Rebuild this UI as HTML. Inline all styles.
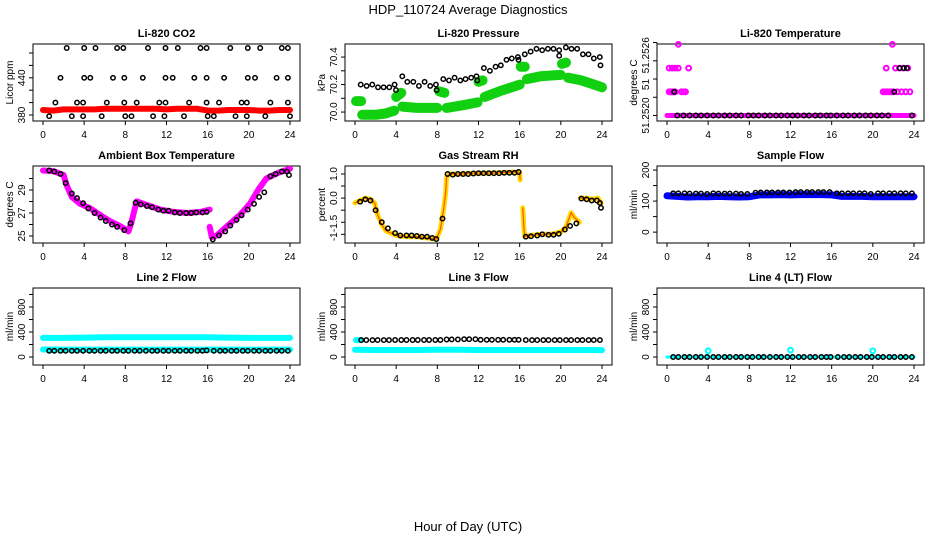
<!DOCTYPE html>
<html><head><meta charset="utf-8"><style>
html,body{margin:0;padding:0;background:#fff;}
svg{display:block;font-family:"Liberation Sans",Arial,sans-serif;}
</style></head><body>
<svg id="chart" width="936" height="540" viewBox="0 0 936 540">
<text x="468" y="14" text-anchor="middle" font-size="13">HDP_110724  Average Diagnostics</text>
<text x="468" y="531" text-anchor="middle" font-size="13">Hour of Day (UTC)</text>
</svg>
<script>
// ---------- data ----------
const xTicks=[0,4,8,12,16,20,24];
// CO2
const co2RedH=[0,1,2,3,4,5,6,7,8,9,10,11,12,13,14,15,16,17,18,19,20,21,22,23,24];
const co2RedV=[388,387,389,389,389,389,390,390,390,390,390,390,389,390,390,390,387,387,388,388,388,387,387,388,388];
const co2BlkH=[2.3,4.0,5.1,7.2,7.8,10.2,11.9,13.1,15.3,15.9,18.2,19.9,21.1,23.2,23.8, 1.7,4.0,4.6,6.8,7.9,9.7,11.9,12.6,14.7,15.9,17.6,19.9,20.6,22.7,23.8, 1.2,3.3,3.9,6.2,7.9,9.1,11.3,11.9,14.2,15.9,17.1,19.3,19.8,22.1,23.8, 0.6,2.8,3.9,5.7,8.0,8.6,10.7,11.8,13.7,16.0,16.6,18.7,19.8,21.6,24.0];
const co2BlkV=[488,488,488,488,488,488,488,488,488,488,488,488,488,488,488, 440,440,440,440,440,440,440,440,440,440,440,440,440,440,440, 400,400,400,400,400,400,400,400,400,400,400,400,400,400,400, 378,378,378,378,378,378,378,378,378,378,378,378,378,378,378];
// Pressure
const presBlkH=[0.55,1.13,1.68,2.23,2.78,3.33,3.85,3.98,4.6,5.08,5.66,6.21,6.76,7.31,7.86,7.93,8.58,9.13,9.68,10.23,10.74,11.29,11.81,11.88,12.52,13.11,13.66,14.17,14.72,15.24,15.83,15.89,16.5,17.06,17.64,18.19,18.74,19.29,19.84,19.84,20.49,21.04,21.59,22.14,22.69,23.2,23.79,23.85];
const presBlkV=[70.20,70.19,70.20,70.18,70.18,70.18,70.20,70.16,70.26,70.22,70.22,70.19,70.22,70.19,70.20,70.16,70.24,70.23,70.25,70.23,70.24,70.25,70.26,70.23,70.32,70.30,70.33,70.34,70.38,70.39,70.40,70.38,70.42,70.44,70.46,70.45,70.46,70.46,70.45,70.41,70.47,70.46,70.46,70.42,70.42,70.39,70.40,70.34];
const presGreenSegs=[
 [[0.1,70.08],[0.6,70.08]],
 [[0.7,69.98],[2.0,69.98],[3.0,69.99],[3.8,70.01]],
 [[4.0,70.11],[4.5,70.14]],
 [[4.6,70.04],[6.0,70.03],[8.0,70.03]],
 [[8.2,70.15],[8.7,70.14]],
 [[8.9,70.03],[10.5,70.05],[11.9,70.07]],
 [[12.0,70.22],[12.4,70.23]],
 [[12.6,70.11],[14.0,70.15],[16.0,70.20]],
 [[16.1,70.33],[16.5,70.33]],
 [[16.7,70.24],[18.0,70.26],[20.0,70.27]],
 [[20.1,70.35],[20.5,70.36]],
 [[20.7,70.25],[22.0,70.23],[24.0,70.18]]];
// Temperature (tick units)
const tempMagH=[0.2,0.3,0.4,0.5,0.6,0.7,0.8,1.4,1.6,1.8,21.0,21.2,21.4,21.6,21.8,22.0,22.4,22.8,23.2,23.6, 0.2,0.5,0.8,1.1,2.1,21.3,22.2,22.6,23.0,23.4, 1.1,21.9];
const tempMagV=[1.3,1.3,1.3,1.3,1.3,1.3,1.3,1.3,1.3,1.3,1.3,1.3,1.3,1.3,1.3,1.3,1.3,1.3,1.3,1.3, 2.6,2.6,2.6,2.6,2.6,2.6,2.6,2.6,2.6,2.6, 3.9,3.9];
const tempBlkH=[1.0,1.6,2.2,2.8,3.3,3.9,4.5,5.0,5.6,6.1,6.7,7.2,7.9,8.4,8.9,9.5,10.0,10.6,11.1,11.7,12.2,12.7,13.3,13.8,14.4,14.9,15.5,15.9,16.5,17.1,17.6,18.2,18.7,19.3,19.8,20.4,20.9,21.5,23.8,0.7,22.1,22.6,23.0,23.3];
const tempBlkV=[0,0,0,0,0,0,0,0,0,0,0,0,0,0,0,0,0,0,0,0,0,0,0,0,0,0,0,0,0,0,0,0,0,0,0,0,0,0,0,1.3,1.3,2.6,2.6,2.6];
// Ambient box temperature
const ambMagSegs=[
 [[0,30.7],[1.0,30.65],[2.0,30.3],[2.3,29.4],[2.8,28.4],[3.6,27.8],[4.6,27.4],[5.6,26.8],[6.5,26.3],[7.5,25.85],[8.3,25.4],[8.6,26.2],[8.95,27.5],[9.1,28.0]],
 [[9.1,28.0],[10.1,27.7],[11.4,27.3],[12.7,27.1],[14.0,27.0],[15.3,27.1],[16.2,27.3]],
 [[16.2,25.8],[16.4,24.9],[16.9,25.05],[18.2,26.1],[19.2,26.9],[20.1,27.8],[20.9,29.0],[21.7,30.0],[23.0,30.55],[24.0,30.85]]];
const ambBlkH=[0.6,1.1,1.7,2.2,2.8,3.3,3.9,4.4,5.0,5.6,6.1,6.7,7.2,7.9,8.5,9.0,9.5,10.1,10.6,11.2,11.7,12.2,12.8,13.3,13.9,14.4,14.9,15.5,15.9,16.5,17.1,17.7,18.2,18.8,19.3,19.9,20.5,21.0,21.5,22.1,22.6,23.2,23.7,23.9];
const ambBlkV=[30.7,30.6,30.4,29.6,28.7,28.3,27.85,27.4,27.0,26.6,26.3,26.0,25.8,25.5,26.1,27.9,27.75,27.6,27.5,27.3,27.2,27.2,27.05,27.0,27.0,27.0,27.05,27.05,27.1,24.7,25.05,25.4,25.9,26.4,26.8,27.3,27.8,28.4,28.8,30.2,30.4,30.6,30.6,30.3];
// Gas stream RH
const rhSegs=[
 [[0,-0.2],[0.5,-0.1],[1,0.0],[1.5,-0.05],[1.9,-0.2],[2.2,-0.7],[2.6,-1.1],[3,-1.35],[3.5,-1.45],[4,-1.55],[5,-1.6],[6,-1.6],[7,-1.65],[7.9,-1.7],[8.3,-1.3],[8.6,-0.5],[8.8,0.2],[8.9,0.9],[9.2,1.0],[10,1.0],[12,1.03],[14,1.05],[15.8,1.08],[16.0,1.05],[16.05,0.75]],
 [[16.3,-0.4],[16.4,-1.2],[16.5,-1.6],[17,-1.55],[18,-1.5],[19,-1.5],[20,-1.4],[20.5,-1.2],[21,-0.6],[21.3,-0.8],[21.8,-1.0]],
 [[21.9,0.0],[22.5,0.0],[23,-0.05],[23.6,0.0],[23.9,-0.2]]];
const rhBlkH=[0.5,1,1.5,2,2.6,3.2,3.9,4.4,5,5.5,6,6.5,7,7.5,7.9,8.5,9,9.5,10,10.5,11,11.5,12,12.5,13,13.5,14,14.5,15,15.5,15.9,16.6,17.1,17.7,18.2,18.8,19.3,19.8,20.4,20.9,21.5,22,22.5,23,23.5,23.8,23.9];
const rhBlkV=[-0.15,-0.05,-0.1,-0.5,-1.0,-1.25,-1.45,-1.55,-1.55,-1.55,-1.57,-1.6,-1.6,-1.65,-1.7,-0.85,1.0,0.97,1.0,1.0,1.0,1.02,1.03,1.03,1.03,1.03,1.03,1.05,1.05,1.05,1.08,-1.6,-1.58,-1.55,-1.5,-1.52,-1.52,-1.48,-1.3,-1.15,-1.05,-0.02,-0.05,-0.1,-0.1,-0.2,-0.4];
// Sample flow
const sfBlueH=[0,1,2,3,4,5,6,7,8,9,10,11,12,13,14,15,16,17,18,19,20,21,22,23,24];
const sfBlueV=[117,115,113,114,114,115,114,113,114,120,120,121,120,121,121,121,120,115,115,115,114,114,114,114,114];
const sfBlkH=[0.6,1.1,1.7,2.2,2.8,3.3,3.9,4.5,5.0,5.6,6.1,6.7,7.2,7.8,8.6,9.1,9.7,10.2,10.8,11.3,11.9,12.5,13.0,13.6,14.1,14.7,15.2,15.8,16.5,17.0,17.6,18.1,18.7,19.2,19.8,20.5,21.0,21.6,22.1,22.7,23.2,23.8];
const sfBlkV=[125,125,125,124,124,124,123,125,124,124,124,124,123,123,127,128,128,128,128,128,128,129,129,129,129,129,129,129,125,125,125,125,125,125,123,125,125,125,125,125,125,125];
// Line flows
const lineHours=[0,2,4,6,8,10,12,14,16,18,20,22,24];
const l2CyanHi=[305,305,310,315,315,315,315,315,315,310,305,305,305];
const l2CyanLo=[120,118,118,118,118,118,118,118,118,118,118,118,118];
const l3CyanLo=[115,112,112,112,115,115,112,112,112,112,112,112,110];
const l4Cyan=[0,0,0,0,0,0,0,0,0,0,0,0,0];
const blkH=[0.6,1.1,1.7,2.2,2.8,3.3,3.9,4.5,5.0,5.6,6.1,6.7,7.2,7.8,8.3,8.9,9.4,10.0,10.6,11.1,11.7,12.2,12.8,13.3,13.9,14.4,15.0,15.5,15.9,16.6,17.2,17.7,18.3,18.8,19.4,19.9,20.5,21.0,21.6,22.1,22.7,23.2,23.8];
const l2BlkV=[100,100,100,100,100,100,100,100,100,100,100,100,100,100,100,100,100,100,100,100,100,100,100,100,100,100,100,100,105,100,100,100,100,100,100,100,100,100,100,100,100,100,100];
const l3BlkV=[270,270,270,270,270,270,272,272,272,272,272,272,272,272,272,280,282,282,285,285,285,275,275,275,275,275,275,275,275,270,270,270,270,270,270,270,270,270,270,270,270,270,270];
const l4BlkV=[0,0,0,0,0,0,0,0,0,0,0,0,0,0,0,0,0,0,0,0,0,0,0,0,0,0,0,0,0,0,0,0,0,0,0,0,0,0,0,0,0,0,0];
const l4SpikeH=[4.0,12.0,20.0];
const l4SpikeV=[100,110,100];

// ---------- drawing ----------
const svg=document.getElementById('chart');
const NS='http://www.w3.org/2000/svg';
const colLeft=[33,345,657], rowTop=[44,166,288], BW=267, BH=77;
function mk(tag,attrs,parent){const e=document.createElementNS(NS,tag);for(const k in attrs)e.setAttribute(k,attrs[k]);(parent||svg).appendChild(e);return e;}

function panel(o){
  const L=colLeft[o.col],T=rowTop[o.row];
  const g=mk('g',{});
  
  
  const xs=h=>L+10+h*(BW-20)/24;
  const ys=v=>T+BH-(v-o.ymin)/(o.ymax-o.ymin)*BH;
  o.xs=xs;o.ys=ys;o.g=g;
  const t=mk('text',{x:L+BW/2,y:T-7,'text-anchor':'middle','font-size':'11','font-weight':'bold'},g);
  t.textContent=o.title;
  
  
  const box=mk('rect',{x:L,y:T,width:BW,height:BH,fill:'none',stroke:'#000','stroke-width':1},g);
  
  
  const xa=mk('g',{},g);
  
  
  mk('line',{x1:xs(0),x2:xs(24),y1:T+BH,y2:T+BH,stroke:'#000'},xa);
  xTicks.forEach(v=>{
    mk('line',{x1:xs(v),x2:xs(v),y1:T+BH,y2:T+BH+4,stroke:'#000'},xa);
    const tl=mk('text',{x:xs(v),y:T+BH+17,'text-anchor':'middle','font-size':'10'},xa);
    tl.textContent=v;
    
    
  });
  const ya=mk('g',{},g);
  
  
  o.yticks.forEach(v=>mk('line',{x1:L-4,x2:L,y1:ys(v),y2:ys(v),stroke:'#000'},ya));
  mk('line',{x1:L,x2:L,y1:ys(o.yticks[0]),y2:ys(o.yticks[o.yticks.length-1]),stroke:'#000'},ya);
  o.ylabels.forEach((lb,i)=>{
    const y=ys(o.ylabelVals[i]);
    const tl=mk('text',{x:L-8,y:y,'text-anchor':'middle','font-size':'10',transform:`rotate(-90 ${L-8} ${y})`},ya);
    tl.textContent=lb;
    
    
  });
  const yl=T+BH/2;
  const ylab=mk('text',{x:L-20,y:yl,'text-anchor':'middle','font-size':'10',transform:`rotate(-90 ${L-20} ${yl})`},ya);
  ylab.textContent=o.ylab;
  
  
  const cp='cp'+o.col+o.row;
  const c=mk('clipPath',{id:cp},g);mk('rect',{x:L,y:T-6,width:BW,height:BH+8},c);
  o.plot=mk('g',{'clip-path':`url(#${cp})`},g);
  return o;
}
function band(o,pts,color,w,name){
  const p=mk('polyline',{points:pts.map(d=>o.xs(d[0]).toFixed(1)+','+o.ys(d[1]).toFixed(1)).join(' '),fill:'none',stroke:color,'stroke-width':w,'stroke-linecap':'round','stroke-linejoin':'round'},o.plot);
  
  
}
function pts(o,H,V,color,name,r,sw){
  const g=mk('g',{},o.plot);
  
  
  H.forEach((h,i)=>mk('circle',{cx:o.xs(h).toFixed(1),cy:o.ys(V[i]).toFixed(1),r:r||2.2,fill:'none',stroke:color,'stroke-width':sw||1.5},g));
}
const zip=(H,V)=>H.map((h,i)=>[h,V[i]]);

// Panel 1
let p=panel({col:0,row:0,name:'co2-panel',title:'Li-820 CO2',ylab:'Licor ppm',ymin:370.3,ymax:494.5,yticks:[380,400,420,440,460,480],ylabels:['380','440'],ylabelVals:[380,440]});
band(p,zip(co2RedH,co2RedV),'#ff0000',6,'co2-red-series');
pts(p,co2BlkH,co2BlkV,'#000','co2-black-points');
// Panel 2
p=panel({col:1,row:0,name:'pressure-panel',title:'Li-820 Pressure',ylab:'kPa',ymin:69.935,ymax:70.495,yticks:[70.0,70.1,70.2,70.3,70.4],ylabels:['70.0','70.2','70.4'],ylabelVals:[70.0,70.2,70.4]});
presGreenSegs.forEach(s=>band(p,s,'#10d010',10,'pressure-green-series'));
pts(p,presBlkH,presBlkV,'#000','pressure-black-points');
// Panel 3
p=panel({col:2,row:0,name:'licor-temperature-panel',title:'Li-820 Temperature',ylab:'degrees C',ymin:-0.3,ymax:3.92,yticks:[0,1,2,3,4],ylabels:['51.2520','51','51.2526'],ylabelVals:[0,1.7,3.3]});
band(p,[[0,0],[24,0]],'#ff00ff',5,'temperature-magenta-base');
pts(p,tempMagH,tempMagV,'#ff00ff','temperature-magenta-points',2.4,2);
pts(p,tempBlkH,tempBlkV,'#000','temperature-black-points');
// Panel 4
p=panel({col:0,row:1,name:'ambient-temperature-panel',title:'Ambient Box Temperature',ylab:'degrees C',ymin:24.39,ymax:31.09,yticks:[25,26,27,28,29,30],ylabels:['25','27','29'],ylabelVals:[25,27,29]});
ambMagSegs.forEach(s=>band(p,s,'#ff00ff',6,'ambient-magenta-series'));
pts(p,ambBlkH,ambBlkV,'#000','ambient-black-points');
// Panel 5
p=panel({col:1,row:1,name:'rh-panel',title:'Gas Stream RH',ylab:'percent',ymin:-1.86,ymax:1.33,yticks:[1,0.5,0,-0.5,-1,-1.5],ylabels:['1.0','0.0','-1.5','-1'],ylabelVals:[1,0,-1.05,-1.6]});
rhSegs.forEach(s=>band(p,s,'#ffdd00',5,'rh-yellow-series'));
rhSegs.forEach(s=>band(p,s,'#ff5500',1.2,'rh-red-series'));
pts(p,rhBlkH,rhBlkV,'#000','rh-black-points');
// Panel 6
p=panel({col:2,row:1,name:'sample-flow-panel',title:'Sample Flow',ylab:'ml/min',ymin:-35,ymax:213,yticks:[0,50,100,150,200],ylabels:['0','100','200'],ylabelVals:[0,100,200]});
band(p,zip(sfBlueH,sfBlueV),'#0000ff',7,'sample-flow-blue-series');
pts(p,sfBlkH,sfBlkV,'#000','sample-flow-black-points');
// Row 3
const lineY={ymin:-128,ymax:1104,yticks:[0,200,400,600,800,1000],ylabels:['0','400','800'],ylabelVals:[0,400,800],ylab:'ml/min'};
p=panel(Object.assign({col:0,row:2,name:'line2-flow-panel',title:'Line 2 Flow'},lineY));
band(p,zip(lineHours,l2CyanHi),'#00ffff',6,'line2-cyan-high');
band(p,zip(lineHours,l2CyanLo),'#00ffff',6,'line2-cyan-low');
pts(p,blkH,l2BlkV,'#000','line2-black-points');
p=panel(Object.assign({col:1,row:2,name:'line3-flow-panel',title:'Line 3 Flow'},lineY));
band(p,zip(lineHours,l3CyanLo),'#00ffff',6,'line3-cyan-low');
band(p,[[0.1,270],[0.6,270]],'#00ffff',6,'line3-cyan-high');
pts(p,blkH,l3BlkV,'#000','line3-black-points');
p=panel(Object.assign({col:2,row:2,name:'line4-flow-panel',title:'Line 4 (LT) Flow'},lineY));
band(p,zip(lineHours,l4Cyan),'#00ffff',3,'line4-cyan-series');
pts(p,l4SpikeH,l4SpikeV,'#00ffff','line4-cyan-spikes',2.4,2);
pts(p,blkH,l4BlkV,'#000','line4-black-points');
</script>
</body></html>
